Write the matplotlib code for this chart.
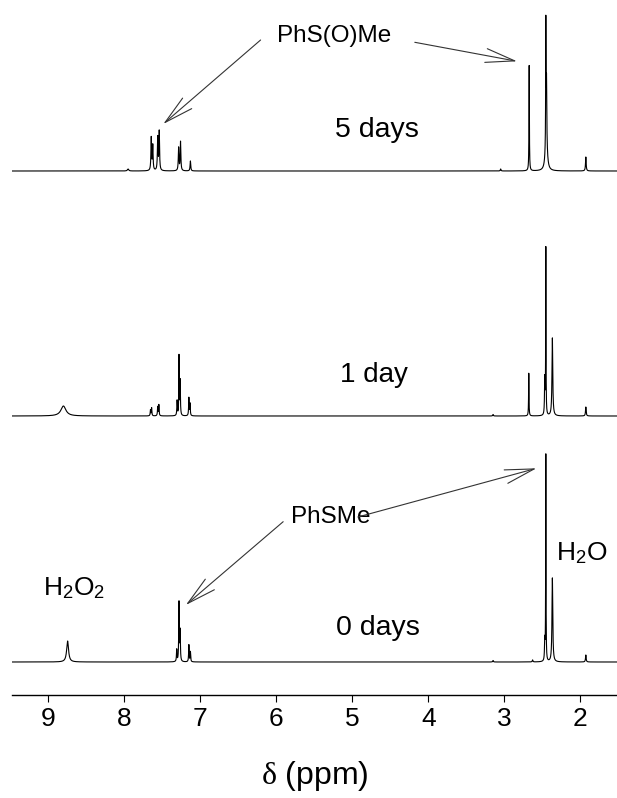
import numpy as np
import matplotlib
matplotlib.use('Agg')
import matplotlib.pyplot as plt

plt.rcParams['font.family'] = ['Liberation Sans', 'DejaVu Sans']
plt.rcParams['mathtext.fontset'] = 'custom'
plt.rcParams['mathtext.rm'] = 'Liberation Sans'
plt.rcParams['mathtext.it'] = 'Liberation Serif'

# Peak lists: position (ppm), height, half width (ppm)
pos_0d = [8.745, 7.31, 7.28, 7.265, 7.15, 7.13, 3.15, 2.63, 2.47, 2.456, 2.37, 1.93]
height_0d = [21, 12, 59, 30, 17, 10, 1.5, 2, 20, 207, 84, 7]
width_0d = [0.015, 0.004, 0.004, 0.004, 0.004, 0.004, 0.005, 0.005, 0.004, 0.0025, 0.006, 0.005]

pos_1d = [8.80, 7.655, 7.64, 7.56, 7.545, 7.305, 7.28, 7.265, 7.15, 7.135, 3.15, 2.68, 2.47, 2.456, 2.37, 1.93]
height_1d = [10, 6, 8, 9, 11, 15, 59, 35, 18, 12, 1.5, 43, 36, 167, 78, 9]
width_1d = [0.04, 0.004, 0.004, 0.004, 0.004, 0.004, 0.003, 0.004, 0.004, 0.004, 0.005, 0.003, 0.004, 0.0025, 0.006, 0.005]

pos_5d = [7.95, 7.645, 7.625, 7.56, 7.54, 7.285, 7.26, 7.13, 3.05, 2.675, 2.456, 2.447, 2.45, 1.93]
height_5d = [2, 33, 25, 33, 39, 23, 29, 10, 2, 106, 120, 60, 30, 14]
width_5d = [0.01, 0.005, 0.005, 0.005, 0.005, 0.005, 0.005, 0.005, 0.005, 0.003, 0.0025, 0.004, 0.015, 0.005]

ticks = [9, 8, 7, 6, 5, 4, 3, 2]


def spectrum(ppm, pos, height, width):
    # sum of lorentzian lines
    y = np.zeros_like(ppm)
    for p, h, w in zip(pos, height, width):
        y += h * w**2 / ((ppm - p)**2 + w**2)
    return y


ppm = np.linspace(9.48, 1.52, 16000)

fig = plt.figure(figsize=(6.17, 7.98), dpi=100)
ax = fig.add_axes([11.7 / 617, 1 - 695 / 798, 1 - 11.7 / 617, 695 / 798])

# stacked traces, vertical offsets in axis units
ax.plot(ppm, 33 + spectrum(ppm, pos_0d, height_0d, width_0d), color='black', lw=0.8)
ax.plot(ppm, 279 + spectrum(ppm, pos_1d, height_1d, width_1d), color='black', lw=0.8)
ax.plot(ppm, 524 + spectrum(ppm, pos_5d, height_5d, width_5d), color='black', lw=0.8)

ax.set_xlim(9.48, 1.52)
ax.set_ylim(0, 695)
ax.set_xticks(ticks)
ax.set_xticklabels([str(t) for t in ticks])
ax.set_yticks([])
for s in ['left', 'right', 'top']:
    ax.spines[s].set_visible(False)
ax.spines['bottom'].set_linewidth(1.0)
ax.tick_params(axis='x', direction='out', length=5, width=0.8, labelsize=19, pad=4)
ax.set_xlabel(r'$\delta$ (ppm)', fontsize=23, labelpad=20)

# labels
ax.text(4.683, 565, '5 days', fontsize=20.5, ha='center', va='center')
ax.text(4.71, 320, '1 day', fontsize=20, ha='center', va='center')
ax.text(4.66, 67, '0 days', fontsize=20.5, ha='center', va='center')
ax.text(8.662, 107, r'H$_2$O$_2$', fontsize=19, ha='center', va='center')
ax.text(1.99, 142, r'H$_2$O', fontsize=19, ha='center', va='center')
ax.text(5.244, 659, 'PhS(O)Me', fontsize=17.5, ha='center', va='center')
ax.text(5.283, 178, 'PhSMe', fontsize=17.5, ha='center', va='center')

arrow = dict(arrowstyle='->,head_length=2.1,head_width=0.5', color='#333333',
             lw=0.8, shrinkA=0, shrinkB=0, mutation_scale=10)
ax.annotate('', xy=(7.487, 571), xytext=(6.207, 655), arrowprops=arrow)
ax.annotate('', xy=(2.834, 633.7), xytext=(4.179, 652.7), arrowprops=arrow)
ax.annotate('', xy=(7.19, 90), xytext=(5.91, 173.3), arrowprops=arrow)
ax.annotate('', xy=(2.579, 226.7), xytext=(4.928, 178), arrowprops=arrow)

fig.savefig('out.png', dpi=100)
